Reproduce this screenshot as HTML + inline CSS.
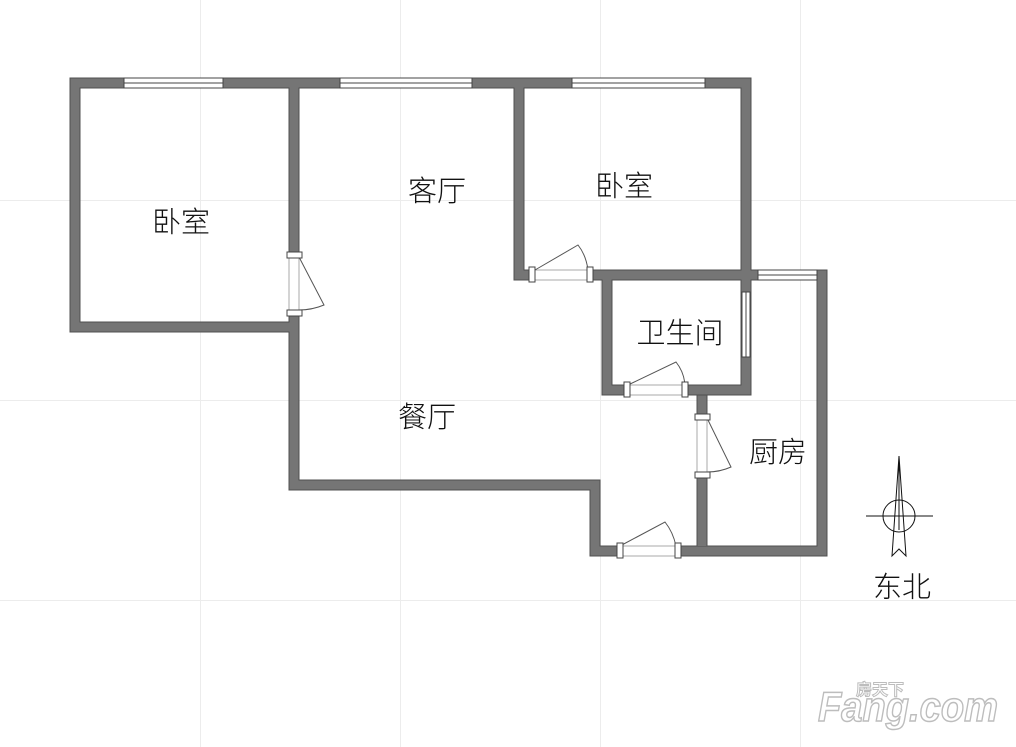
<!DOCTYPE html>
<html><head><meta charset="utf-8"><style>
html,body{margin:0;padding:0;background:#fff;}
svg{display:block}
text{font-family:"Liberation Sans","Noto Sans CJK SC",sans-serif;fill:#111;}
</style></head><body>
<svg width="1016" height="747" viewBox="0 0 1016 747" xmlns="http://www.w3.org/2000/svg">
<g stroke="#ececec" stroke-width="1">
<line x1="200.5" y1="0" x2="200.5" y2="747"/><line x1="400.5" y1="0" x2="400.5" y2="747"/>
<line x1="600.5" y1="0" x2="600.5" y2="747"/><line x1="800.5" y1="0" x2="800.5" y2="747"/>
<line x1="0" y1="200.5" x2="1016" y2="200.5"/><line x1="0" y1="400.5" x2="1016" y2="400.5"/>
<line x1="0" y1="600.5" x2="1016" y2="600.5"/>
</g>
<!-- walls -->
<g fill="#757575" stroke="#505050" stroke-width="1">
<path d="M70 78 H751 V270 H827 V556 H678 V546 H817 V280 H751 V395 H686 V385 H741 V280 H612 V385 H628 V395 H602 V280 H592 V270 H741 V88 H524 V270 H530 V280 H514 V88 H299 V252 H289 V88 H80 V322 H289 V315 H299 V480 H600 V546 H620 V556 H590 V490 H289 V332 H70 Z"/>
<rect x="697" y="395" width="10" height="20"/>
<rect x="697" y="475" width="10" height="71" stroke="none"/>
<line x1="697" y1="475" x2="697" y2="546"/><line x1="707" y1="475" x2="707" y2="546"/>
</g>
<!-- windows -->
<g fill="#fff" stroke="#444" stroke-width="1">
<rect x="124" y="78" width="99" height="10"/><rect x="340" y="78" width="132" height="10"/>
<rect x="572" y="78" width="133" height="10"/><rect x="758" y="270" width="59" height="10"/>
<rect x="742" y="292" width="8" height="65"/>
</g>
<g stroke="#444" stroke-width="1" fill="none">
<line x1="124" y1="83" x2="223" y2="83"/><line x1="340" y1="83" x2="472" y2="83"/>
<line x1="572" y1="83" x2="705" y2="83"/><line x1="758" y1="275" x2="817" y2="275"/>
<line x1="746" y1="292" x2="746" y2="357"/>
</g>
<!-- doors -->
<g stroke="#aaa" stroke-width="1" fill="none">
<line x1="289" y1="256" x2="289" y2="313"/><line x1="299" y1="256" x2="299" y2="313"/>
<line x1="535" y1="270" x2="588" y2="270"/><line x1="535" y1="280" x2="588" y2="280"/>
<line x1="628" y1="385" x2="686" y2="385"/><line x1="628" y1="395" x2="686" y2="395"/>
<line x1="697" y1="418" x2="697" y2="472"/><line x1="707" y1="418" x2="707" y2="472"/>
<line x1="620" y1="546" x2="676" y2="546"/><line x1="620" y1="556" x2="676" y2="556"/>
</g>
<g stroke="#555" stroke-width="1" fill="none">
<path d="M299 257 L324 305 Q312 310 299 310"/>
<path d="M535 270 L578 245 Q586 255 588 270"/>
<path d="M628 385 L676 362 Q684 372 685 385"/>
<path d="M707 418 L731 467 Q720 472 707 472"/>
<path d="M620 546 L665 522 Q673 532 676 546"/>
</g>
<g fill="#fff" stroke="#444" stroke-width="1">
<rect x="287" y="252" width="15" height="6"/><rect x="287" y="310" width="15" height="6"/>
<rect x="529" y="267" width="6" height="15"/><rect x="587" y="267" width="6" height="15"/>
<rect x="624" y="382" width="6" height="15"/><rect x="682" y="382" width="6" height="15"/>
<rect x="695" y="414" width="15" height="6"/><rect x="695" y="472" width="15" height="6"/>
<rect x="617" y="543" width="6" height="15"/><rect x="675" y="543" width="6" height="15"/>
</g>
<!-- labels -->
<g font-size="29" text-anchor="middle" font-weight="300">
<text x="181" y="232">卧室</text>
<text x="437" y="201">客厅</text>
<text x="624" y="196">卧室</text>
<text x="680" y="343">卫生间</text>
<text x="427" y="427">餐厅</text>
<text x="778" y="462">厨房</text>
<text x="902" y="597">东北</text>
</g>
<!-- compass -->
<g stroke="#111" stroke-width="1" fill="none">
<circle cx="899" cy="516" r="16"/>
<line x1="866" y1="516" x2="933" y2="516"/>
<path d="M899 456 L906 556 L899 549 L892 556 Z"/>
<line x1="899" y1="456" x2="899" y2="530"/>
</g>
<!-- watermark -->
<text x="818" y="721" font-size="42" font-style="italic" font-weight="bold" textLength="180" lengthAdjust="spacingAndGlyphs" style="fill:#fff;stroke:#bdbdbd;stroke-width:1.5;font-family:'Liberation Sans',sans-serif">Fang.com</text>
<text x="856" y="695" font-size="16" font-weight="bold" style="fill:#fff;stroke:#bdbdbd;stroke-width:1">房天下</text>
</svg>
</body></html>
